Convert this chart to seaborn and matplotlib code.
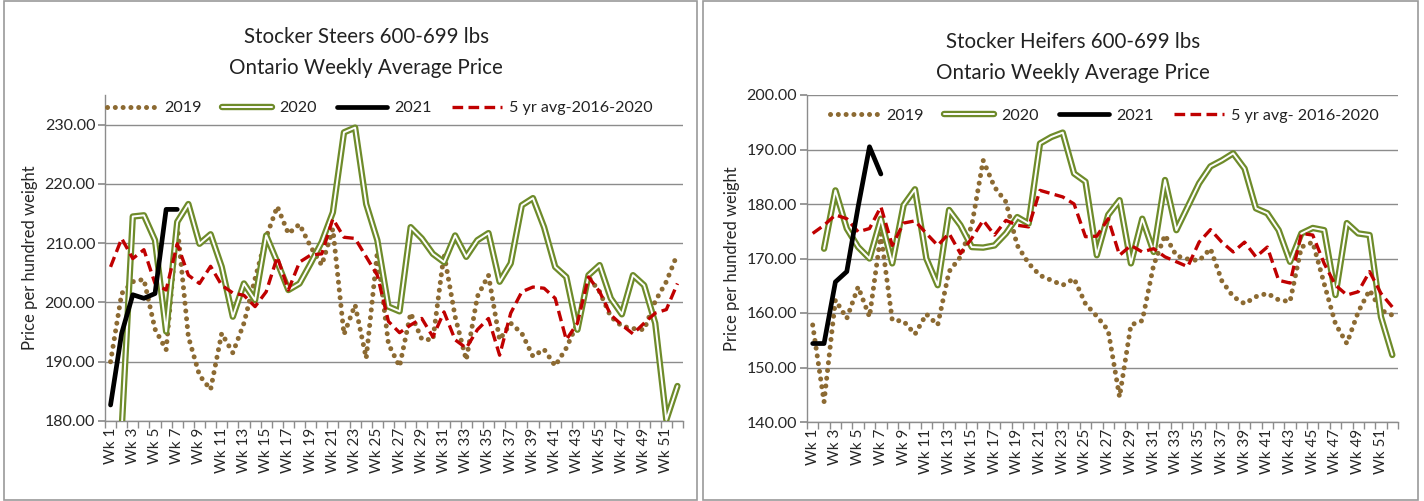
import numpy as np
import pandas as pd
import matplotlib
matplotlib.use("Agg")
import matplotlib.pyplot as plt
import seaborn as sns
from matplotlib.lines import Line2D
from matplotlib.patches import Rectangle
from matplotlib.legend_handler import HandlerTuple

weeks = [f"Wk {i}" for i in range(1, 53)]
nan = np.nan

# Stocker steers 600-699 lbs
steers_2019 = [190.0, 201.5, 203.5, 203.9, 195.5, 192.0, 213.0, 194.2, 187.7, 185.3,
               194.8, 191.5, 196.5, 204.0, 211.0, 216.2, 211.6, 213.2, 209.4, 206.3,
               212.4, 194.6, 199.6, 190.6, 208.5, 193.0, 189.2, 198.2, 193.8, 193.7,
               208.2, 197.6, 190.3, 201.0, 204.6, 193.7, 196.5, 194.8, 190.9, 192.1,
               189.3, 192.3, 196.5, 204.3, 201.8, 197.6, 196.0, 195.6, 195.4, 200.2,
               203.5, 208.2]
steers_2020 = [nan, 178.5, 214.5, 214.7, 210.5, 195.1, 213.6, 216.6, 209.9, 211.5,
               206.0, 197.6, 203.2, 200.4, 211.3, 206.8, 202.1, 203.2, 206.6, 210.2,
               215.2, 228.7, 229.5, 216.6, 210.5, 199.3, 198.5, 212.7, 210.8, 208.2,
               206.8, 211.3, 207.7, 210.5, 211.7, 203.5, 206.6, 216.4, 217.6, 212.7,
               206.0, 204.3, 195.4, 204.6, 206.3, 200.7, 198.0, 204.6, 202.9, 196.5,
               180.2, 185.9]
steers_2021 = [182.7, 194.8, 201.3, 200.7, 201.5, 215.7, 215.7]
steers_avg = [206.0, 210.8, 207.4, 208.9, 203.2, 202.1, 209.9, 204.6, 203.2, 206.1,
              202.9, 201.6, 201.2, 199.3, 201.8, 207.7, 202.1, 206.8, 208.0, 208.2,
              214.1, 211.0, 210.8, 207.7, 204.6, 196.8, 194.9, 196.2, 197.3, 194.2,
              198.4, 193.7, 192.3, 195.4, 197.3, 191.1, 198.2, 201.8, 202.6, 202.4,
              200.7, 193.7, 196.5, 204.3, 201.8, 197.9, 196.2, 194.7, 196.5, 198.2,
              198.8, 203.2]

# Stocker heifers 600-699 lbs
heifers_2019 = [157.8, 143.7, 162.4, 159.0, 164.8, 159.3, 174.5, 158.7, 158.5, 156.1,
                159.8, 157.8, 167.6, 170.3, 176.1, 188.0, 183.1, 180.4, 172.4, 169.1,
                166.9, 166.0, 165.1, 166.3, 161.7, 159.4, 156.8, 144.6, 157.8, 158.6,
                168.8, 174.3, 170.5, 169.9, 169.6, 171.8, 165.9, 163.0, 161.7, 163.0,
                163.6, 162.4, 162.1, 172.1, 173.0, 165.4, 158.0, 154.4, 160.2, 164.2,
                160.5, 159.6]
heifers_2020 = [nan, 171.8, 182.5, 175.5, 172.1, 170.0, 177.3, 169.1, 179.8, 182.7,
                170.0, 165.1, 178.9, 176.1, 172.1, 172.0, 172.4, 174.6, 177.6, 176.4,
                191.1, 192.3, 193.1, 185.6, 184.1, 170.6, 178.0, 180.7, 169.1, 177.3,
                171.2, 184.4, 175.2, 179.5, 183.8, 186.9, 188.0, 189.3, 186.5, 179.2,
                178.3, 175.2, 169.4, 174.6, 175.6, 175.2, 163.3, 176.5, 174.6, 174.3,
                159.3, 152.3]
heifers_2021 = [154.4, 154.4, 165.7, 167.6, 179.5, 190.5, 185.5]
heifers_avg = [174.6, 176.1, 178.0, 177.3, 174.9, 175.5, 179.5, 172.4, 176.5, 176.9,
               174.6, 172.4, 174.6, 170.9, 173.7, 177.0, 174.3, 177.0, 176.1, 175.8,
               182.5, 181.9, 181.3, 180.0, 174.0, 174.1, 177.3, 170.6, 172.4, 171.2,
               171.8, 170.3, 169.4, 168.5, 173.0, 175.3, 173.0, 171.2, 173.0, 170.3,
               172.1, 166.0, 165.5, 174.6, 174.3, 169.1, 165.1, 163.3, 163.9, 167.6,
               163.6, 161.1]

C19 = "#8C6A32"
C20 = "#6E8B2A"
C21 = "#000000"
CAVG = "#C00000"
GRID = "#8C8C8C"
DOTS = (0, (0.01, 1.55))
DASH = (0, (3.2, 1.6))

sns.set_theme(style="white")
plt.rcParams["font.family"] = ["Lato", "DejaVu Sans"]
plt.rcParams["text.color"] = "#222222"


def draw_panel(ax, s19, s20, s21, savg, ylim, yticks, avg_label, leg_xy):
    x = np.arange(52)
    d19 = pd.DataFrame({"x": x, "y": s19})
    d20 = pd.DataFrame({"x": x, "y": s20}).dropna()
    d21 = pd.DataFrame({"x": np.arange(len(s21)), "y": s21})
    davg = pd.DataFrame({"x": x, "y": savg})

    for yv in yticks:
        ax.axhline(yv, color=GRID, lw=1.0, zorder=0)

    sns.lineplot(data=d19, x="x", y="y", ax=ax, color=C19, lw=3.6,
                 linestyle=DOTS, dash_capstyle="round", zorder=2)
    sns.lineplot(data=d20, x="x", y="y", ax=ax, color=C20, lw=4.6, zorder=3)
    sns.lineplot(data=d20, x="x", y="y", ax=ax, color="white", lw=1.4, zorder=4)
    sns.lineplot(data=davg, x="x", y="y", ax=ax, color=CAVG, lw=2.4,
                 linestyle=DASH, zorder=5)
    sns.lineplot(data=d21, x="x", y="y", ax=ax, color=C21, lw=3.4, zorder=6)

    ax.set_xlim(-0.5, 51.5)
    ax.set_ylim(*ylim)
    ax.set_yticks(yticks)
    ax.set_yticklabels([f"{v:.2f}" for v in yticks], fontsize=11.5)
    ax.set_xticks(np.arange(0, 52, 2))
    ax.set_xticklabels(weeks[::2], rotation=90, fontsize=11)
    ax.set_xticks(np.arange(-0.5, 52, 1), minor=True)
    ax.tick_params(axis="x", which="major", length=0, pad=5)
    ax.tick_params(axis="x", which="minor", length=5, color=GRID, direction="out", bottom=True)
    ax.tick_params(axis="y", length=5, color=GRID, direction="out", left=True, pad=2)
    ax.set_xlabel("")
    ax.set_ylabel("Price per hundred weight", fontsize=12, labelpad=5)
    for side in ["top", "right"]:
        ax.spines[side].set_visible(False)
    for side in ["left", "bottom"]:
        ax.spines[side].set_color(GRID)
        ax.spines[side].set_linewidth(1.0)

    h19 = Line2D([], [], color=C19, lw=3.6, linestyle=DOTS, dash_capstyle="round")
    h20 = (Line2D([], [], color=C20, lw=4.6), Line2D([], [], color="white", lw=1.4))
    h21 = Line2D([], [], color=C21, lw=3.4)
    havg = Line2D([], [], color=CAVG, lw=2.4, linestyle=DASH)
    ax.legend([h19, h20, h21, havg], ["2019", "2020", "2021", avg_label],
              handler_map={tuple: HandlerTuple(ndivide=1, pad=0)},
              loc="center", bbox_to_anchor=leg_xy, ncol=4, frameon=False,
              fontsize=11.6, handlelength=3.1, handletextpad=0.45, columnspacing=1.25)


fig = plt.figure(figsize=(14.24, 5.01), dpi=100)
W, H = 1424, 501

ax1 = fig.add_axes([105 / W, 1 - 421 / H, 578 / W, 326 / H])
ax2 = fig.add_axes([807 / W, 1 - 422 / H, 591 / W, 327 / H])

draw_panel(ax1, steers_2019, steers_2020, steers_2021, steers_avg,
           (180, 235), [180, 190, 200, 210, 220, 230],
           "5 yr avg-2016-2020", (0.476, 0.96))
draw_panel(ax2, heifers_2019, heifers_2020, heifers_2021, heifers_avg,
           (140, 200), [140, 150, 160, 170, 180, 190, 200],
           "5 yr avg- 2016-2020", (0.503, 0.936))

# chart titles
fig.text(366 / W, 1 - 37 / H, "Stocker Steers 600-699 lbs", ha="center", va="center", fontsize=14.8)
fig.text(366 / W, 1 - 68 / H, "Ontario Weekly Average Price", ha="center", va="center", fontsize=14.8)
fig.text(1073 / W, 1 - 42 / H, "Stocker Heifers 600-699 lbs", ha="center", va="center", fontsize=14.8)
fig.text(1073 / W, 1 - 73 / H, "Ontario Weekly Average Price", ha="center", va="center", fontsize=14.8)

# chart area borders
fig.add_artist(Rectangle((4 / W, 1 / H), 693 / W, 499 / H, transform=fig.transFigure,
                         fill=False, edgecolor="#9A9A9A", lw=1.2))
fig.add_artist(Rectangle((703 / W, 1 / H), 715 / W, 499 / H, transform=fig.transFigure,
                         fill=False, edgecolor="#9A9A9A", lw=1.2))

fig.savefig("out.png", dpi=100, facecolor="white")
